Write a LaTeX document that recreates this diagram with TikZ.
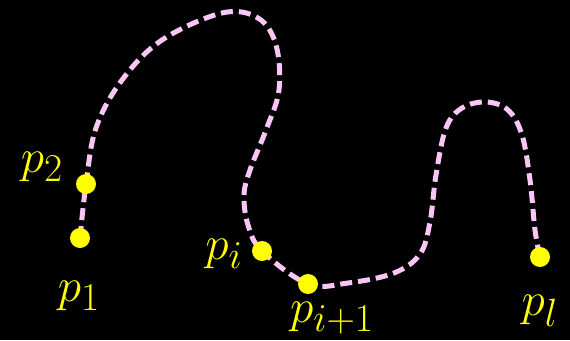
\documentclass[tikz,border=0pt]{standalone}
\usepackage{graphicx}
\usepackage{tikz}
\definecolor{curvepink}{RGB}{250,198,246}
\definecolor{dotyellow}{RGB}{255,255,0}
\newcommand{\biglab}[1]{\scalebox{1.9}{\Huge$#1$}}
\begin{document}
\begin{tikzpicture}[
  x=1pt, y=-1pt,
  dot/.style={circle, fill=dotyellow, inner sep=0pt, minimum size=20pt},
  lab/.style={text=dotyellow, inner sep=0pt},
  path/.style={curvepink, line width=5pt, dash pattern=on 12pt off 6pt}
]
  \fill[black] (0,0) rectangle (570,340);
  % points on the curve
  \coordinate (c1) at (80,238);
  \coordinate (c2) at (86,184);
  \coordinate (ci) at (262,251);
  \coordinate (cj) at (308,284);
  \coordinate (cl) at (540,257);
  \draw[path] plot[smooth, tension=0.6] coordinates {
    (c1) (c2) (96,128) (122,80) (162,40) (222,13) (258,18) (276,45)
    (279,90) (266,130) (250,170) (244,195) (248,225) (ci) (cj)
    (348,283) (394,273) (420,254) (430,222) (436,175) (446,128)
    (462,108) (486,102) (508,110) (522,135) (530,180) (535,230) (cl)};
  \node[dot] (p1) at (c1) {};
  \node[dot] (p2) at (c2) {};
  \node[dot] (pi) at (ci) {};
  \node[dot] (pj) at (cj) {};
  \node[dot] (pl) at (cl) {};
  \node[lab] (l1) at (79,296) {\biglab{p_1}};
  \node[lab] (l2) at (42,167) {\biglab{p_2}};
  \node[lab] (li) at (224,254) {\biglab{p_i}};
  \node[lab] (lj) at (332,318) {\biglab{p_{i+1}}};
  \node[lab] (ll) at (540,311) {\biglab{p_l}};
\end{tikzpicture}
\end{document}
